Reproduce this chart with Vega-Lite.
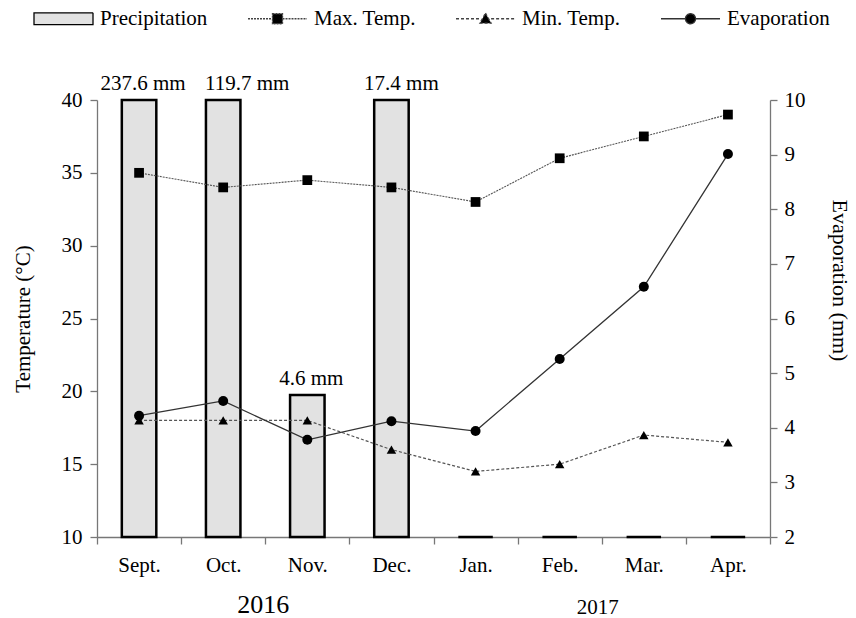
{
  "$schema": "https://vega.github.io/schema/vega-lite/v6.json",
  "width": 673,
  "height": 437,
  "autosize": {"type": "none"},
  "padding": {"left": 97, "top": 100, "right": 86, "bottom": 81},
  "background": "white",
  "config": {
    "font": "Liberation Serif",
    "view": {"stroke": null},
    "axis": {
      "labelFont": "Liberation Serif",
      "labelFontSize": 21,
      "labelColor": "black",
      "titleFont": "Liberation Serif",
      "titleFontSize": 21,
      "titleFontWeight": "normal",
      "titleColor": "black",
      "domainColor": "#777777",
      "domainWidth": 1.3,
      "tickColor": "#777777",
      "tickWidth": 1.3,
      "tickSize": 7,
      "grid": false
    }
  },
  "datasets": {
    "precip": [
      {"month": "Sept.", "precipitation": 237.6, "label": "237.6 mm"},
      {"month": "Oct.", "precipitation": 119.7, "label": "119.7 mm"},
      {"month": "Nov.", "precipitation": 4.6, "label": "4.6 mm"},
      {"month": "Dec.", "precipitation": 17.4, "label": "17.4 mm"},
      {"month": "Jan.", "precipitation": 0, "label": ""},
      {"month": "Feb.", "precipitation": 0, "label": ""},
      {"month": "Mar.", "precipitation": 0, "label": ""},
      {"month": "Apr.", "precipitation": 0, "label": ""}
    ],
    "temp": [
      {"month": "Sept.", "series": "Max. Temp.", "temperature": 35},
      {"month": "Oct.", "series": "Max. Temp.", "temperature": 34},
      {"month": "Nov.", "series": "Max. Temp.", "temperature": 34.5},
      {"month": "Dec.", "series": "Max. Temp.", "temperature": 34},
      {"month": "Jan.", "series": "Max. Temp.", "temperature": 33},
      {"month": "Feb.", "series": "Max. Temp.", "temperature": 36},
      {"month": "Mar.", "series": "Max. Temp.", "temperature": 37.5},
      {"month": "Apr.", "series": "Max. Temp.", "temperature": 39},
      {"month": "Sept.", "series": "Min. Temp.", "temperature": 18},
      {"month": "Oct.", "series": "Min. Temp.", "temperature": 18},
      {"month": "Nov.", "series": "Min. Temp.", "temperature": 18},
      {"month": "Dec.", "series": "Min. Temp.", "temperature": 16},
      {"month": "Jan.", "series": "Min. Temp.", "temperature": 14.5},
      {"month": "Feb.", "series": "Min. Temp.", "temperature": 15},
      {"month": "Mar.", "series": "Min. Temp.", "temperature": 17},
      {"month": "Apr.", "series": "Min. Temp.", "temperature": 16.5}
    ],
    "evap": [
      {"month": "Sept.", "evaporation": 4.22},
      {"month": "Oct.", "evaporation": 4.49},
      {"month": "Nov.", "evaporation": 3.78},
      {"month": "Dec.", "evaporation": 4.12},
      {"month": "Jan.", "evaporation": 3.94},
      {"month": "Feb.", "evaporation": 5.26},
      {"month": "Mar.", "evaporation": 6.58},
      {"month": "Apr.", "evaporation": 9.01}
    ],
    "years": [
      {"month": "Oct.", "year": "2016"},
      {"month": "Feb.", "year": "2017"}
    ]
  },
  "encoding": {
    "x": {
      "field": "month",
      "type": "nominal",
      "scale": {"domain": ["Sept.", "Oct.", "Nov.", "Dec.", "Jan.", "Feb.", "Mar.", "Apr."], "paddingInner": 0, "paddingOuter": 0},
      "axis": {
        "title": null,
        "labelAngle": 0,
        "tickBand": "extent",
        "labelPadding": 10
      }
    }
  },
  "layer": [
    {
      "data": {"name": "precip"},
      "encoding": {
        "y": {
          "field": "precipitation",
          "type": "quantitative",
          "scale": {"domain": [0, 14.15], "clamp": true, "nice": false, "zero": true},
          "axis": null
        }
      },
      "layer": [
        {
          "mark": {"type": "bar", "width": {"band": 0.41}, "fill": "#e2e2e2", "stroke": "black", "strokeWidth": 2.5}
        },
        {
          "transform": [{"filter": "datum.month === 'Sept.' || datum.month === 'Nov.'"}],
          "mark": {"type": "text", "baseline": "alphabetic", "dx": 4, "dy": -10, "fontSize": 21, "font": "Liberation Serif", "color": "black"},
          "encoding": {"text": {"field": "label"}}
        },
        {
          "transform": [{"filter": "datum.month === 'Oct.'"}],
          "mark": {"type": "text", "baseline": "alphabetic", "dx": 24, "dy": -10, "fontSize": 21, "font": "Liberation Serif", "color": "black"},
          "encoding": {"text": {"field": "label"}}
        },
        {
          "transform": [{"filter": "datum.month === 'Dec.'"}],
          "mark": {"type": "text", "baseline": "alphabetic", "dx": 10, "dy": -10, "fontSize": 21, "font": "Liberation Serif", "color": "black"},
          "encoding": {"text": {"field": "label"}}
        }
      ]
    },
    {
      "data": {"name": "temp"},
      "encoding": {
        "y": {
          "field": "temperature",
          "type": "quantitative",
          "scale": {"domain": [10, 40], "nice": false, "zero": false},
          "axis": {
            "orient": "left",
            "title": "Temperature (°C)",
            "values": [10, 15, 20, 25, 30, 35, 40],
            "labelPadding": 8,
            "titlePadding": 28
          }
        }
      },
      "layer": [
        {
          "transform": [{"filter": "datum.series === 'Max. Temp.'"}],
          "mark": {"type": "line", "strokeWidth": 1.1, "stroke": "#555555", "strokeDash": [2, 1]}
        },
        {
          "transform": [{"filter": "datum.series === 'Min. Temp.'"}],
          "mark": {"type": "line", "strokeWidth": 1.2, "stroke": "#555555", "strokeDash": [3, 2]}
        },
        {
          "transform": [{"filter": "datum.series === 'Max. Temp.'"}],
          "mark": {"type": "point", "filled": true, "opacity": 1, "color": "black", "shape": "square", "size": 95}
        },
        {
          "transform": [{"filter": "datum.series === 'Min. Temp.'"}],
          "mark": {"type": "point", "filled": true, "opacity": 1, "color": "black", "shape": "triangle-up", "size": 90}
        },
        {
          "mark": {"type": "point", "filled": true, "opacity": 0, "strokeWidth": 1.3},
          "encoding": {
            "shape": {
              "field": "series",
              "type": "nominal",
              "scale": {
                "domain": ["Precipitation", "Max. Temp.", "Min. Temp.", "Evaporation"],
                "range": [
                  "M-1,-0.2H1V0.2H-1Z",
                  "M-1,0H-0.17M0.17,0H1M-0.17,-0.17H0.17V0.17H-0.17Z",
                  "M-1,0H-0.19M0.19,0H1M0,-0.19L0.19,0.15H-0.19Z",
                  "M-1,0H-0.17M0.17,0H1M0.17,0A0.17,0.17,0,1,1,-0.17,0A0.17,0.17,0,1,1,0.17,0Z"
                ]
              },
              "legend": {
                "title": null,
                "orient": "none",
                "legendX": -64,
                "legendY": -112,
                "direction": "horizontal",
                "columns": 4,
                "symbolSize": 3481,
                "symbolOpacity": 1,
                "symbolStrokeWidth": 1.3,
                "labelFont": "Liberation Serif",
                "labelFontSize": 21,
                "labelColor": "black",
                "labelOffset": 6,
                "columnPadding": 37
              }
            },
            "fill": {
              "field": "series",
              "type": "nominal",
              "scale": {
                "domain": ["Precipitation", "Max. Temp.", "Min. Temp.", "Evaporation"],
                "range": ["#e2e2e2", "black", "black", "black"]
              },
              "legend": {
                "title": null,
                "orient": "none",
                "legendX": -64,
                "legendY": -112,
                "direction": "horizontal",
                "columns": 4,
                "symbolSize": 3481,
                "symbolOpacity": 1,
                "symbolStrokeWidth": 1.3,
                "labelFont": "Liberation Serif",
                "labelFontSize": 21,
                "labelColor": "black",
                "labelOffset": 6,
                "columnPadding": 37
              }
            },
            "stroke": {
              "field": "series",
              "type": "nominal",
              "scale": {
                "domain": ["Precipitation", "Max. Temp.", "Min. Temp.", "Evaporation"],
                "range": ["black", "#444444", "#444444", "#333333"]
              },
              "legend": {
                "title": null,
                "orient": "none",
                "legendX": -64,
                "legendY": -112,
                "direction": "horizontal",
                "columns": 4,
                "symbolSize": 3481,
                "symbolOpacity": 1,
                "symbolStrokeWidth": 1.3,
                "labelFont": "Liberation Serif",
                "labelFontSize": 21,
                "labelColor": "black",
                "labelOffset": 6,
                "columnPadding": 37
              }
            },
            "strokeDash": {
              "field": "series",
              "type": "nominal",
              "scale": {
                "domain": ["Precipitation", "Max. Temp.", "Min. Temp.", "Evaporation"],
                "range": [[1, 0], [2, 1], [3, 2], [1, 0]]
              },
              "legend": {
                "title": null,
                "orient": "none",
                "legendX": -64,
                "legendY": -112,
                "direction": "horizontal",
                "columns": 4,
                "symbolSize": 3481,
                "symbolOpacity": 1,
                "symbolStrokeWidth": 1.3,
                "labelFont": "Liberation Serif",
                "labelFontSize": 21,
                "labelColor": "black",
                "labelOffset": 6,
                "columnPadding": 37
              }
            }
          }
        }
      ]
    },
    {
      "data": {"name": "evap"},
      "encoding": {
        "y": {
          "field": "evaporation",
          "type": "quantitative",
          "scale": {"domain": [2, 10], "nice": false, "zero": false},
          "axis": {
            "orient": "right",
            "title": "Evaporation (mm)",
            "titleAngle": 90,
            "titleFontSize": 22,
            "titleY": 180,
            "values": [2, 3, 4, 5, 6, 7, 8, 9, 10],
            "labelPadding": 7,
            "titlePadding": 22
          }
        }
      },
      "layer": [
        {
          "mark": {"type": "line", "stroke": "#333333", "strokeWidth": 1.3}
        },
        {
          "mark": {"type": "point", "filled": true, "opacity": 1, "color": "black", "shape": "circle", "size": 100}
        }
      ]
    },
    {
      "data": {"name": "years"},
      "transform": [{"filter": "datum.month === 'Oct.'"}],
      "mark": {"type": "text", "dx": 40, "dy": 68, "baseline": "middle", "fontSize": 26, "font": "Liberation Serif", "color": "black"},
      "encoding": {
        "y": {"datum": 10, "type": "quantitative", "scale": {"domain": [10, 40]}, "axis": null},
        "text": {"field": "year"}
      }
    },
    {
      "data": {"name": "years"},
      "transform": [{"filter": "datum.month === 'Feb.'"}],
      "mark": {"type": "text", "dx": 38, "dy": 71, "baseline": "middle", "fontSize": 21, "font": "Liberation Serif", "color": "black"},
      "encoding": {
        "y": {"datum": 10, "type": "quantitative", "scale": {"domain": [10, 40]}, "axis": null},
        "text": {"field": "year"}
      }
    }
  ],
  "resolve": {"scale": {"y": "independent"}, "axis": {"y": "independent"}}
}
